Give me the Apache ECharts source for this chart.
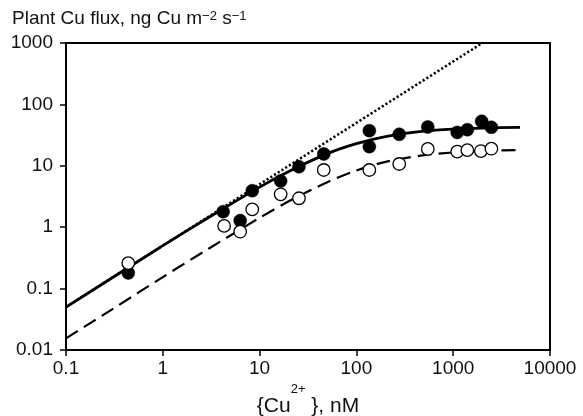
<!DOCTYPE html>
<html>
<head>
<meta charset="utf-8">
<script src="https://cdn.jsdelivr.net/npm/echarts@6/dist/echarts.min.js"></script>
<style>html,body{margin:0;padding:0;background:#fff}#c{width:583px;height:416px}</style>
</head>
<body>
<div id="c"></div>
<script>
// Filled circles (measured)
var filledX = [0.44, 4.2, 6.3, 8.4, 16.5, 25.5, 46, 136, 136, 277, 546, 1100, 1400, 1970, 2480];
var filledY = [0.18, 1.79, 1.28, 3.93, 5.65, 9.66, 15.6, 37.3, 20.5, 32.6, 42.9, 35, 38.7, 53, 42.4];
// Open circles (measured)
var openX = [0.44, 4.3, 6.3, 8.4, 16.5, 25.5, 46, 136, 277, 546, 1100, 1400, 1930, 2480];
var openY = [0.26, 1.05, 0.845, 1.95, 3.43, 2.96, 8.55, 8.55, 10.7, 18.8, 17, 18, 17.4, 19];
// Solid curve
var solidX = [0.1, 0.3, 1, 3, 10, 20, 50, 100, 200, 500, 1000, 2000, 4900];
var solidY = [0.05, 0.15, 0.5, 1.45, 4.5, 8.1, 15.8, 23, 30, 36.7, 39.6, 41.2, 42.3];
// Dashed curve
var dashX = [0.1, 0.3, 1, 3, 10, 20, 50, 100, 200, 500, 1000, 2000, 4800];
var dashY = [0.0155, 0.046, 0.154, 0.45, 1.42, 2.64, 5.4, 8.4, 11.6, 14.9, 16.5, 17.5, 18.1];
// Dotted line
var dotX = [0.1, 2000];
var dotY = [0.05, 1000];
var xTicks = [0.1, 1, 10, 100, 1000, 10000];
var yTicks = [0.01, 0.1, 1, 10, 100, 1000];

function pairs(xs, ys){ return xs.map(function(x,i){ return [x, ys[i]]; }); }
var FONT = "'Liberation Sans', Arial, Helvetica, sans-serif";
function fmt(v){ return String(+(+v).toPrecision(6)); }

var chart = echarts.init(document.getElementById('c'), null, {renderer:'canvas'});
chart.setOption({
  animation: false,
  backgroundColor: '#fff',
  title: {
    left: 12, top: 9.5, padding: 0,
    text: '{a|Plant Cu flux, ng Cu m}{s|\u22122}{a| s}{s|\u22121}',
    textStyle: {
      fontWeight: 'normal',
      rich: {
        a: {fontSize: 19, lineHeight: 22, fontFamily: FONT, fontWeight: 'normal', color: '#111', verticalAlign: 'top'},
        s: {fontSize: 13, lineHeight: 18, fontFamily: FONT, fontWeight: 'normal', color: '#111', verticalAlign: 'top'}
      }
    }
  },
  grid: {left: 66, right: 33, top: 43, bottom: 66, outerBoundsMode: 'none', containLabel: false,
         show: true, borderColor: '#000', borderWidth: 2, backgroundColor: 'transparent'},
  xAxis: {
    type: 'log', logBase: 10, min: 0.1, max: 10000,
    name: '{Cu{s|2+} }, nM',
    nameLocation: 'middle', nameGap: 29,
    nameTextStyle: {
      fontSize: 21, lineHeight: 47, fontFamily: FONT, color: '#111',
      rich: { s: {fontSize: 13, lineHeight: 13, fontFamily: FONT, color: '#111', verticalAlign: 'top'} }
    },
    axisLine: {show: true, onZero: false, lineStyle: {color: '#000', width: 2}},
    axisTick: {show: true, inside: false, length: 6, lineStyle: {color: '#000', width: 1.5}},
    minorTick: {show: false},
    splitLine: {show: false},
    axisLabel: {fontSize: 19, fontFamily: FONT, color: '#111', margin: 9, formatter: fmt, showMinLabel: true, showMaxLabel: true}
  },
  yAxis: {
    type: 'log', logBase: 10, min: 0.01, max: 1000,
    axisLine: {show: true, onZero: false, lineStyle: {color: '#000', width: 2}},
    axisTick: {show: true, inside: false, length: 6, lineStyle: {color: '#000', width: 1.5}},
    minorTick: {show: false},
    splitLine: {show: false},
    axisLabel: {fontSize: 19, fontFamily: FONT, color: '#111', margin: 13, formatter: fmt, showMinLabel: true, showMaxLabel: true}
  },
  series: [
    {type: 'line', data: pairs(dotX, dotY), showSymbol: false, symbol: 'none', clip: true,
     lineStyle: {color: '#000', width: 2.5, type: [2.2, 2.2], opacity: 1}, z: 1, silent: true},
    {type: 'line', data: pairs(dashX, dashY), showSymbol: false, symbol: 'none', smooth: 0.3, clip: true,
     lineStyle: {color: '#000', width: 2.2, type: [14, 7], opacity: 1}, z: 1, silent: true},
    {type: 'line', data: pairs(solidX, solidY), showSymbol: false, symbol: 'none', smooth: 0.3, clip: true,
     lineStyle: {color: '#000', width: 2.8, opacity: 1}, z: 2, silent: true},
    {type: 'scatter', data: pairs(filledX, filledY), symbol: 'circle', symbolSize: 13,
     itemStyle: {color: '#000', borderColor: '#000', borderWidth: 0.5, opacity: 1}, z: 3},
    {type: 'scatter', data: pairs(openX, openY), symbol: 'circle', symbolSize: 12.5,
     itemStyle: {color: '#fff', borderColor: '#000', borderWidth: 1.3, opacity: 1}, z: 4}
  ]
});
</script>
</body>
</html>
